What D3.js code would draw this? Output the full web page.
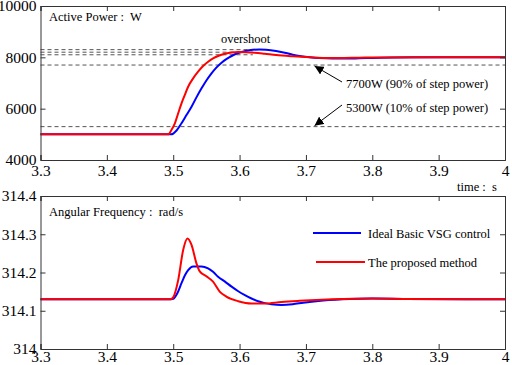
<!DOCTYPE html>
<html>
<head>
<meta charset="utf-8">
<script src="https://cdn.jsdelivr.net/npm/d3@7"></script>
<style>
  body { margin: 0; background: #fff; }
  .tick line, .domain { stroke: #333; }
</style>
</head>
<body>
<svg id="chart" width="512" height="365"></svg>
<script>
// time ticks shared by both panels
const timeTicks = [3.3, 3.4, 3.5, 3.6, 3.7, 3.8, 3.9, 4];
const powerTicks = [4000, 6000, 8000, 10000];
const freqTicks = [314, 314.1, 314.2, 314.3, 314.4];

// active power [t, W]
const powerBasic = [
  [3.3, 5000], [3.497, 5000], [3.505, 5150], [3.5125, 5430], [3.52, 5750],
  [3.5276, 6076], [3.535, 6440], [3.5427, 6792], [3.55, 7100], [3.5577, 7377],
  [3.565, 7600], [3.5728, 7790], [3.58, 7930], [3.588, 8052], [3.598, 8170],
  [3.609, 8250], [3.62, 8295], [3.63, 8310], [3.64, 8300], [3.655, 8250],
  [3.67, 8170], [3.68, 8100], [3.693, 8040], [3.706, 8000], [3.72, 7970],
  [3.74, 7952], [3.76, 7952], [3.78, 7962], [3.8, 7975], [3.83, 7992],
  [3.86, 8000], [4, 8000]
];
const powerProposed = [
  [3.3, 5000], [3.4925, 5000], [3.4975, 5180], [3.5025, 5430], [3.5075, 5820],
  [3.5125, 6208], [3.5175, 6540], [3.5225, 6855], [3.53, 7180], [3.5375, 7440],
  [3.545, 7660], [3.5526, 7830], [3.56, 7960], [3.5676, 8052], [3.578, 8140],
  [3.588, 8190], [3.598, 8205], [3.61, 8200], [3.623, 8180], [3.638, 8140],
  [3.655, 8090], [3.68, 8040], [3.706, 8000], [3.73, 7975], [3.75, 7972],
  [3.78, 7985], [3.82, 7998], [4, 8000]
];

// angular frequency [t, rad/s]
const freqBasic = [
  [3.3, 314.13], [3.497, 314.13], [3.5, 314.131], [3.506, 314.145], [3.5125, 314.172],
  [3.5175, 314.192], [3.5225, 314.206], [3.53, 314.216], [3.5425, 314.216],
  [3.5525, 314.211], [3.56, 314.202], [3.5676, 314.189], [3.578, 314.176],
  [3.588, 314.163], [3.598, 314.151], [3.608, 314.141], [3.618, 314.132],
  [3.628, 314.125], [3.638, 314.12], [3.648, 314.117], [3.663, 314.115],
  [3.68, 314.117], [3.696, 314.121], [3.726, 314.127], [3.766, 314.131],
  [3.8, 314.132], [3.85, 314.131], [4, 314.13]
];
const freqProposed = [
  [3.3, 314.13], [3.496, 314.13], [3.5, 314.135], [3.5075, 314.18], [3.515, 314.259],
  [3.5215, 314.289], [3.5276, 314.272], [3.535, 314.224], [3.54, 314.203],
  [3.55, 314.19], [3.56, 314.176], [3.57, 314.15], [3.58, 314.137], [3.598, 314.125],
  [3.618, 314.119], [3.638, 314.119], [3.663, 314.123], [3.69, 314.126],
  [3.74, 314.13], [3.8, 314.132], [3.85, 314.131], [4, 314.13]
];

// reference levels in the power panel
const overshootLevels = [8300, 8200, 8100];
const overshootEnd = 3.62;
const stepLevels = [7700, 5300];
const stepNotes = ['7700W (90% of step power)', '5300W (10% of step power)'];
const arrowTime = 3.713;

const seriesNames = ['Ideal Basic VSG control', 'The proposed method'];
const colors = ['#0000ff', '#ff0000'];

const FONT = '"Liberation Serif"';
const svg = d3.select('#chart');
const left = 40.5, right = 505;

svg.append('defs').append('marker')
  .attr('id', 'arr')
  .attr('viewBox', '0 0 10 10')
  .attr('refX', 10).attr('refY', 5)
  .attr('markerWidth', 9).attr('markerHeight', 9)
  .attr('markerUnits', 'userSpaceOnUse')
  .attr('orient', 'auto')
  .append('path').attr('d', 'M0,0L10,5L0,10z').attr('fill', '#000');

const x = d3.scaleLinear().domain([3.3, 4]).range([left, right]);

const label = (g, px, py, txt) => g.append('text')
  .attr('x', px).attr('y', py)
  .style('font-family', FONT).style('font-size', '12.5px')
  .style('white-space', 'pre').attr('fill', '#000')
  .text(txt);

const addFrame = (g, y, yTicks, yFmt, bottom, top, pad) => {
  g.append('g').attr('transform', `translate(0,${bottom})`)
    .call(d3.axisBottom(x).tickValues(timeTicks).tickSize(-5).tickPadding(pad).tickFormat(d3.format('')));
  g.append('g').attr('transform', `translate(0,${top})`)
    .call(d3.axisTop(x).tickValues(timeTicks).tickSize(-5).tickFormat(''));
  g.append('g').attr('transform', `translate(${left},0)`)
    .call(d3.axisLeft(y).tickValues(yTicks).tickSize(-5).tickPadding(4).tickFormat(yFmt));
  g.append('g').attr('transform', `translate(${right},0)`)
    .call(d3.axisRight(y).tickValues(yTicks).tickSize(-5).tickFormat(''));
  g.selectAll('.domain').attr('stroke', '#333');
  g.selectAll('.tick text')
    .style('font-family', FONT).style('font-size', '15.5px').attr('fill', '#000');
};

// ---------- top panel: active power
const yP = d3.scaleLinear().domain([4000, 10000]).range([160, 6]);
const gP = svg.append('g');
const lineP = d3.line().x(d => x(d[0])).y(d => yP(d[1])).curve(d3.curveMonotoneX);

gP.selectAll('.ovs').data(overshootLevels).join('line')
  .attr('x1', left).attr('x2', x(overshootEnd))
  .attr('y1', d => yP(d)).attr('y2', d => yP(d))
  .attr('stroke', '#555').attr('stroke-width', 1).attr('stroke-dasharray', '4,3');
gP.selectAll('.stp').data(stepLevels).join('line')
  .attr('x1', left).attr('x2', right)
  .attr('y1', d => yP(d)).attr('y2', d => yP(d))
  .attr('stroke', '#555').attr('stroke-width', 1).attr('stroke-dasharray', '4,3');

[powerBasic, powerProposed].forEach((s, i) => {
  gP.append('path').datum(s).attr('d', lineP)
    .attr('fill', 'none').attr('stroke', colors[i]).attr('stroke-width', 2);
});

addFrame(gP, yP, powerTicks, d3.format('d'), 160, 6, 5);

label(gP, 49, 21, 'Active Power :  W');
label(gP, 221, 43, 'overshoot');
label(gP, 457, 191, 'time :  s');

stepLevels.forEach((v, i) => {
  label(gP, 346, i === 0 ? 88 : 112, stepNotes[i]);
  gP.append('line')
    .attr('x1', 342).attr('y1', i === 0 ? 82 : 105)
    .attr('x2', x(arrowTime)).attr('y2', yP(v) + (i === 0 ? 1 : -1))
    .attr('stroke', '#000').attr('stroke-width', 1)
    .attr('marker-end', 'url(#arr)');
});

// ---------- bottom panel: angular frequency
const yF = d3.scaleLinear().domain([314, 314.4]).range([349, 196]);
const gF = svg.append('g');
const lineF = d3.line().x(d => x(d[0])).y(d => yF(d[1])).curve(d3.curveMonotoneX);

[freqBasic, freqProposed].forEach((s, i) => {
  gF.append('path').datum(s).attr('d', lineF)
    .attr('fill', 'none').attr('stroke', colors[i]).attr('stroke-width', 2);
});

addFrame(gF, yF, freqTicks, d => d3.format('')(+d.toFixed(1)), 349, 196, 2);

label(gF, 49, 216, 'Angular Frequency :  rad/s');

// legend
const legY = [233, 262];
seriesNames.forEach((n, i) => {
  gF.append('line')
    .attr('x1', i === 0 ? 313 : 316).attr('x2', i === 0 ? 361 : 365)
    .attr('y1', legY[i]).attr('y2', legY[i])
    .attr('stroke', colors[i]).attr('stroke-width', 2);
  label(gF, 368, legY[i] + 5, n);
});
</script>
</body>
</html>
